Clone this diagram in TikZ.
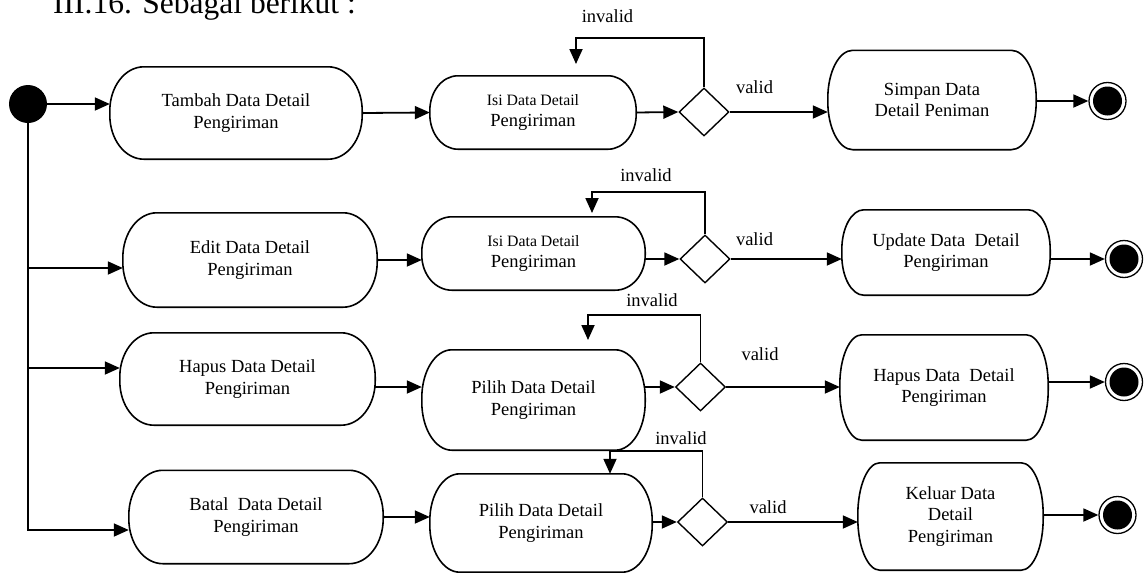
\documentclass[tikz,border=0pt]{standalone}
\usepackage{fontspec}
\setmainfont{Liberation Serif}
\usepackage{tikz}
\usetikzlibrary{positioning, shapes.geometric, arrows.meta}
\newcommand{\boxfont}{\fontsize{18.5}{21.5}\selectfont}
\newcommand{\isifont}{\fontsize{15.8}{18}\selectfont}
% outline of an action node with elliptic ends: name, x radius, y radius
\newcommand{\ovalbox}[3]{%
  \draw[line width=1.6pt] ([xshift=#2]#1.north west) -- ([xshift=-#2]#1.north east)
    arc[start angle=90, end angle=0, x radius=#2, y radius=#3]
    -- ([yshift=#3]#1.south east)
    arc[start angle=0, end angle=-90, x radius=#2, y radius=#3]
    -- ([xshift=#2]#1.south west)
    arc[start angle=270, end angle=180, x radius=#2, y radius=#3]
    -- ([yshift=-#3]#1.north west)
    arc[start angle=180, end angle=90, x radius=#2, y radius=#3] -- cycle;}

\begin{document}
\begin{tikzpicture}[x=1pt, y=-1pt, every node/.style={font=\boxfont},
    act/.style={align=center, inner sep=0pt},
    dec/.style={draw, diamond, line width=1.4pt, inner sep=0pt, minimum width=50pt, minimum height=48pt},
    startdot/.style={circle, fill=black, minimum size=38pt, inner sep=0pt},
    stopdot/.style={circle, draw, line width=1.3pt, minimum size=37pt, inner sep=0pt,
      path picture={\fill (path picture bounding box.center) circle (14.5pt);}},
    flow/.style={line width=1.8pt, -{Triangle[length=15pt, width=13pt]}},
    guard/.style={inner sep=0pt}]
  \useasboundingbox (0,0) rectangle (1144,573);

  % Heading, cut by the top of the page
  \node[anchor=base west, inner sep=0pt, font=\fontsize{31.5}{36}\selectfont] (title) at (53,13)
    {III.16. Sebagai berikut :};

  % Start
  \node[startdot] (start) at (28,104) {};

  % Row 1: tambah
  \node[act, minimum width=252pt, minimum height=92pt] (tambah) at (236,113)
    {Tambah Data Detail\\Pengiriman};
  \node[act, minimum width=206pt, minimum height=73pt] (isiA) at (533,112.5)
    {{\isifont Isi Data Detail}\\Pengiriman};
  \node[dec] (decA) at (704,112) {};
  \node[act, minimum width=208pt, minimum height=99pt] (simpan) at (932,100)
    {Simpan Data\\Detail Peniman};
  \node[stopdot] (stopA) at (1107.5,101) {};
  \ovalbox{tambah}{34pt}{44pt}
  \ovalbox{isiA}{28pt}{35pt}
  \ovalbox{simpan}{25pt}{48pt}

  % Row 2: edit
  \node[act, minimum width=254pt, minimum height=94pt] (edit) at (250,260)
    {Edit Data Detail\\Pengiriman};
  \node[act, minimum width=223pt, minimum height=73pt] (isiB) at (533.5,253.5)
    {{\isifont Isi Data Detail}\\Pengiriman};
  \node[dec] (decB) at (705,259) {};
  \node[act, minimum width=208pt, minimum height=85pt] (update) at (946,252.5)
    {Update Data~ Detail\\Pengiriman};
  \node[stopdot] (stopB) at (1124,259) {};
  \ovalbox{edit}{34pt}{45pt}
  \ovalbox{isiB}{30pt}{35pt}
  \ovalbox{update}{22pt}{40pt}

  % Row 3: hapus
  \node[act, minimum width=255pt, minimum height=92pt] (hapus) at (247.5,379)
    {Hapus Data Detail\\Pengiriman};
  \node[act, minimum width=223pt, minimum height=100pt] (pilihA) at (533.5,400)
    {Pilih Data Detail\\Pengiriman};
  \node[dec] (decC) at (700.5,387) {};
  \node[act, minimum width=208pt, minimum height=105pt] (hapusB) at (944,387.5)
    {Hapus Data~ Detail\\Pengiriman};
  \node[stopdot] (stopC) at (1124,382) {};
  \ovalbox{hapus}{34pt}{44pt}
  \ovalbox{pilihA}{30pt}{48pt}
  \ovalbox{hapusB}{22pt}{50pt}

  % Row 4: batal
  \node[act, minimum width=254pt, minimum height=93pt] (batal) at (256,517)
    {Batal~ Data Detail\\Pengiriman};
  \node[act, minimum width=222pt, minimum height=98pt] (pilihB) at (541,523)
    {Pilih Data Detail\\Pengiriman};
  \node[dec] (decD) at (702.5,522) {};
  \node[act, minimum width=185pt, minimum height=107pt] (keluar) at (950.5,516.5)
    {Keluar Data\\Detail\\Pengiriman};
  \node[stopdot] (stopD) at (1117.5,515) {};
  \ovalbox{batal}{34pt}{45pt}
  \ovalbox{pilihB}{30pt}{47pt}
  \ovalbox{keluar}{22pt}{52pt}

  % Guards
  \node[guard] (invA) at (607.5,16) {invalid};
  \node[guard] (valA) at (754.5,87) {valid};
  \node[guard] (invB) at (646,175) {invalid};
  \node[guard] (valB) at (754.5,239) {valid};
  \node[guard] (invC) at (652,300) {invalid};
  \node[guard] (valC) at (760,354) {valid};
  \node[guard] (invD) at (681,438) {invalid};
  \node[guard] (valD) at (768,507) {valid};

  % Fork from the start
  \coordinate (jB) at (28,268);
  \coordinate (jC) at (28,368);
  \coordinate (jD) at (28,530);
  \draw[flow] (start.east) -- (start.east -| tambah.west);
  \draw[flow] (start.south) -- (jD) -- (jD -| batal.west);
  \draw[flow] (jB) -- (jB -| edit.west);
  \draw[flow] (jC) -- (jC -| hapus.west);

  % Main flow of each row
  \draw[flow] (tambah.east) -- (isiA.west);
  \draw[flow] (isiA.east) -- (decA.west);
  \draw[flow] (decA.east) -- (decA.east -| simpan.west);
  \draw[flow] (stopA.west -| simpan.east) -- (stopA.west);

  \draw[flow] (edit.east) -- (edit.east -| isiB.west);
  \draw[flow] (isiB.east |- decB) -- (decB.west);
  \draw[flow] (decB.east) -- (decB.east -| update.west);
  \draw[flow] (stopB.west -| update.east) -- (stopB.west);

  \draw[flow] (hapus.east |- decC) -- (pilihA.west |- decC);
  \draw[flow] (pilihA.east |- decC) -- (decC.west);
  \draw[flow] (decC.east) -- (decC.east -| hapusB.west);
  \draw[flow] (stopC.west -| hapusB.east) -- (stopC.west);

  \draw[flow] (batal.east) -- (batal.east -| pilihB.west);
  \draw[flow] (pilihB.east |- decD) -- (decD.west);
  \draw[flow] (decD.east) -- (decD.east -| keluar.west);
  \draw[flow] (stopD.west -| keluar.east) -- (stopD.west);

  % invalid loops back to the input step
  \coordinate (lpA) at (576,38);
  \coordinate (lpB) at (592,192);
  \coordinate (lpC) at (588,315);
  \coordinate (lpD) at (610,451);
  \draw[flow] (decA.north) |- (lpA) -- ++(0,26);
  \draw[flow] (decB.north) |- (lpB) -- ++(0,21);
  \draw[flow] (decC.north) |- (lpC) -- ++(0,25);
  \draw[flow] (decD.north) |- (lpD) -- (lpD |- pilihB.north);
\end{tikzpicture}
\end{document}
